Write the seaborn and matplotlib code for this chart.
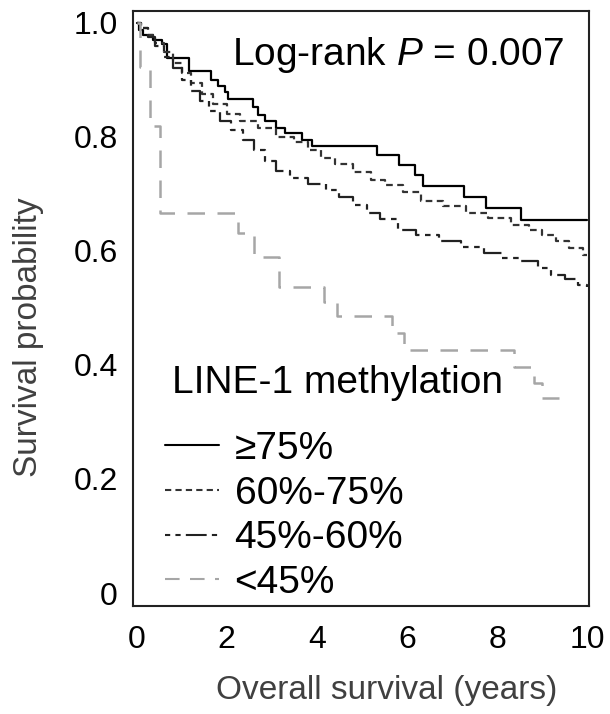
import numpy as np
import pandas as pd
import matplotlib
matplotlib.use("Agg")
import matplotlib.pyplot as plt
import seaborn as sns

# Kaplan-Meier curves (time in years, survival after each step)
groups = ["\u226575%", "60%-75%", "45%-60%", "<45%"]

t_75 = [0, 0.05, 0.15, 0.37, 0.56, 0.67, 1.17, 1.65, 1.81, 1.96, 2.02, 2.59, 2.70, 2.85,
        3.10, 3.30, 3.67, 3.89, 5.33, 5.81, 6.18, 6.36, 7.26, 7.76, 8.52, 10.0]
s_75 = [1.0, 0.988, 0.979, 0.970, 0.963, 0.938, 0.915, 0.900, 0.889, 0.879, 0.866, 0.853, 0.839, 0.827,
        0.815, 0.806, 0.795, 0.783, 0.768, 0.751, 0.733, 0.713, 0.695, 0.675, 0.654, 0.654]

t_60 = [0, 0.1, 0.25, 0.4, 0.6, 0.8, 1.0, 1.2, 1.45, 1.7, 2.0, 2.3, 2.7, 3.1, 3.5, 3.8, 4.1,
        4.4, 4.8, 5.2, 5.5, 5.9, 6.3, 6.8, 7.3, 7.8, 8.3, 8.7, 9.0, 9.3, 9.6, 9.9, 10.0]
s_60 = [1.0, 0.99, 0.978, 0.965, 0.948, 0.93, 0.912, 0.895, 0.875, 0.858, 0.84, 0.828, 0.815, 0.80,
        0.79, 0.777, 0.763, 0.752, 0.738, 0.725, 0.715, 0.703, 0.688, 0.678, 0.667, 0.657, 0.646,
        0.637, 0.628, 0.618, 0.605, 0.593, 0.593]

t_45 = [0, 0.1, 0.25, 0.4, 0.6, 0.8, 1.0, 1.2, 1.4, 1.6, 1.85, 2.1, 2.35, 2.6, 2.85, 3.1, 3.4,
        3.8, 4.2, 4.5, 4.8, 5.1, 5.4, 5.8, 6.2, 6.7, 7.2, 7.7, 8.1, 8.5, 8.9, 9.2, 9.5, 9.8, 10.0]
s_45 = [1.0, 0.99, 0.975, 0.96, 0.94, 0.92, 0.9, 0.88, 0.862, 0.845, 0.828, 0.812, 0.795, 0.777,
        0.758, 0.74, 0.727, 0.718, 0.706, 0.695, 0.68, 0.667, 0.655, 0.637, 0.628, 0.617, 0.607,
        0.596, 0.588, 0.582, 0.57, 0.558, 0.55, 0.54, 0.537]

t_lo = [0, 0.07, 0.3, 0.52, 2.26, 2.6, 3.15, 4.15, 4.44, 5.67, 5.93, 8.37, 8.82, 9.0, 9.36]
s_lo = [1.0, 0.923, 0.818, 0.666, 0.631, 0.59, 0.537, 0.511, 0.485, 0.456, 0.426, 0.397, 0.368,
        0.342, 0.342]

xticks = [0, 2, 4, 6, 8, 10]
yticks = [0, 0.2, 0.4, 0.6, 0.8, 1.0]
ytick_labels = ["0", "0.2", "0.4", "0.6", "0.8", "1.0"]

sns.set_style("white")
plt.rcParams["font.family"] = ["Liberation Sans", "DejaVu Sans"]
plt.rcParams["mathtext.fontset"] = "custom"
plt.rcParams["mathtext.rm"] = "Liberation Sans"
plt.rcParams["mathtext.it"] = "Liberation Sans:italic"

fig = plt.figure(figsize=(6.1, 7.14), dpi=100)
ax = fig.add_axes([0.218, 0.151, 0.748, 0.834])

styles = [
    ("black", "-", 1.6),
    ("#333333", (0, (3, 2)), 1.6),
    ("#222222", (0, (2.5, 2.5, 2.5, 2.5, 10, 2.5)), 1.6),
    ("#a6a6a6", (0, (7, 5)), 1.8),
]
curves = [(t_75, s_75), (t_60, s_60), (t_45, s_45), (t_lo, s_lo)]

for name, (t, s), (col, ls, lw) in zip(groups, curves, styles):
    df = pd.DataFrame({"time": t, "surv": s})
    sns.lineplot(data=df, x="time", y="surv", ax=ax, color=col, linestyle=ls, linewidth=lw,
                 drawstyle="steps-post", estimator=None, sort=False, label=name)

ax.set_xlim(-0.08, 10.04)
ax.set_ylim(-0.023, 1.021)
ax.set_xticks(xticks)
ax.set_xticklabels([str(v) for v in xticks])
ax.set_yticks(yticks)
ax.set_yticklabels(ytick_labels)
ax.tick_params(axis="both", labelsize=23, colors="#b0b0b0", labelcolor="black",
               length=4, width=1, direction="out", pad=7)
ax.tick_params(axis="x", pad=9.5)
for sp in ax.spines.values():
    sp.set_color("#222222")
    sp.set_linewidth(1.5)

ax.set_xlabel("Overall survival (years)", fontsize=24, color="#404040")
ax.set_ylabel("Survival probability", fontsize=24, color="#404040")
ax.xaxis.set_label_coords(0.556, -0.141)
ax.xaxis.label.set_va("center")
ax.yaxis.set_label_coords(-0.228, 0.452)
ax.yaxis.label.set_va("center")

ax.text(0.217, 0.926, "Log-rank $P$ = 0.007", transform=ax.transAxes, fontsize=28,
        va="center", ha="left", color="black")

# legend title drawn on its own so the gap above the entries can match
ax.text(0.086, 0.375, "LINE-1 methylation", transform=ax.transAxes, fontsize=28,
        va="center", ha="left", color="black")

leg = ax.legend(loc="lower left", bbox_to_anchor=(0.019, -0.03), frameon=False,
                fontsize=28, handlelength=1.4, handletextpad=0.39, labelspacing=0.22,
                borderpad=0.1, labelcolor="black")
for line in leg.get_lines():
    line.set_linewidth(1.5)

fig.savefig("out.png", dpi=100)
